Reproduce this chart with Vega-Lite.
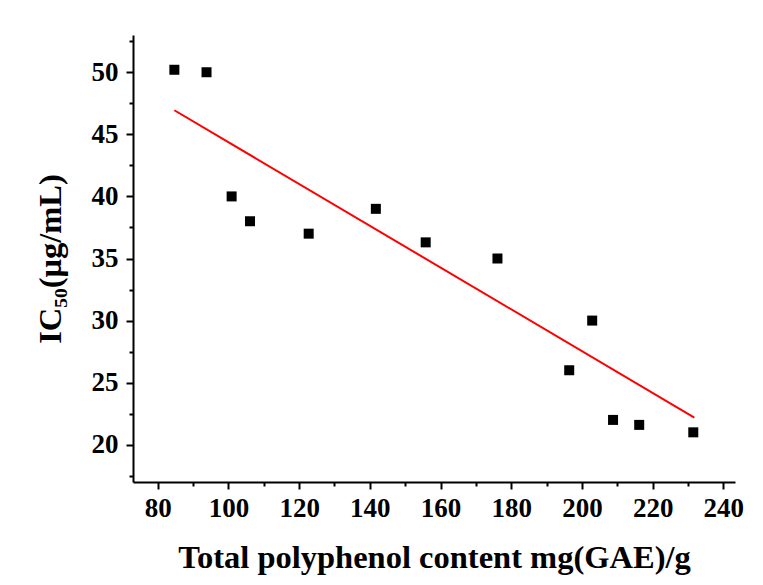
{
  "$schema": "https://vega.github.io/schema/vega-lite/v6.json",
  "autosize": "none",
  "width": 602,
  "height": 447,
  "padding": {"left": 133, "top": 35, "right": 28, "bottom": 103},
  "background": "white",
  "config": {
    "view": {"stroke": null},
    "axis": {
      "labelFont": "Liberation Serif",
      "labelFontWeight": "bold",
      "labelFontSize": 27,
      "labelColor": "black",
      "titleFont": "Liberation Serif",
      "titleFontWeight": "bold",
      "titleFontSize": 32.5,
      "titleColor": "black",
      "domainColor": "black",
      "domainWidth": 2,
      "tickColor": "black",
      "tickWidth": 2,
      "tickSize": 7,
      "grid": false
    }
  },
  "datasets": {
    "points": [
      {"tpc": 84.7, "ic50": 50.2},
      {"tpc": 93.8, "ic50": 50.0},
      {"tpc": 100.9, "ic50": 40.0},
      {"tpc": 106.1, "ic50": 38.0},
      {"tpc": 122.7, "ic50": 37.0},
      {"tpc": 141.7, "ic50": 39.0},
      {"tpc": 155.8, "ic50": 36.3},
      {"tpc": 176.1, "ic50": 35.0},
      {"tpc": 196.4, "ic50": 26.0},
      {"tpc": 202.9, "ic50": 30.0},
      {"tpc": 208.8, "ic50": 22.0},
      {"tpc": 216.2, "ic50": 21.6},
      {"tpc": 231.5, "ic50": 21.0}
    ],
    "fit": [
      {"tpc": 84.7, "ic50": 46.94},
      {"tpc": 231.8, "ic50": 22.19}
    ]
  },
  "layer": [
    {
      "data": {"name": "fit"},
      "mark": {"type": "line", "color": "#ff0000", "strokeWidth": 2},
      "encoding": {
        "x": {
          "field": "tpc", "type": "quantitative",
          "scale": {"domain": [73, 243.3], "nice": false, "zero": false},
          "axis": {
            "title": "Total polyphenol content mg(GAE)/g",
            "values": [80, 90, 100, 110, 120, 130, 140, 150, 160, 170, 180, 190, 200, 210, 220, 230, 240],
            "tickCount": 200,
            "format": "d",
            "labelExpr": "datum.value % 20 == 0 ? datum.label : ''",
            "tickDash": {"condition": {"test": "datum.value % 20 == 0", "value": []}, "value": [4, 10]},
            "labelPadding": 6,
            "titlePadding": 20,
            "labelFlush": false,
            "labelOverlap": false
          }
        },
        "y": {
          "field": "ic50", "type": "quantitative",
          "scale": {"domain": [17, 53], "nice": false, "zero": false},
          "axis": {
            "title": "IC₅₀(μg/mL)",
            "values": [17.5, 20, 22.5, 25, 27.5, 30, 32.5, 35, 37.5, 40, 42.5, 45, 47.5, 50, 52.5],
            "tickCount": 200,
            "format": "d",
            "labelExpr": "datum.value % 5 == 0 ? datum.label : ''",
            "tickDash": {"condition": {"test": "datum.value % 5 == 0", "value": []}, "value": [4, 10]},
            "labelPadding": 8,
            "titlePadding": 24,
            "labelFlush": false,
            "labelOverlap": false
          }
        }
      }
    },
    {
      "data": {"name": "points"},
      "mark": {"type": "square", "filled": true, "color": "black", "size": 100, "opacity": 1},
      "encoding": {
        "x": {"field": "tpc", "type": "quantitative"},
        "y": {"field": "ic50", "type": "quantitative"}
      }
    }
  ]
}
